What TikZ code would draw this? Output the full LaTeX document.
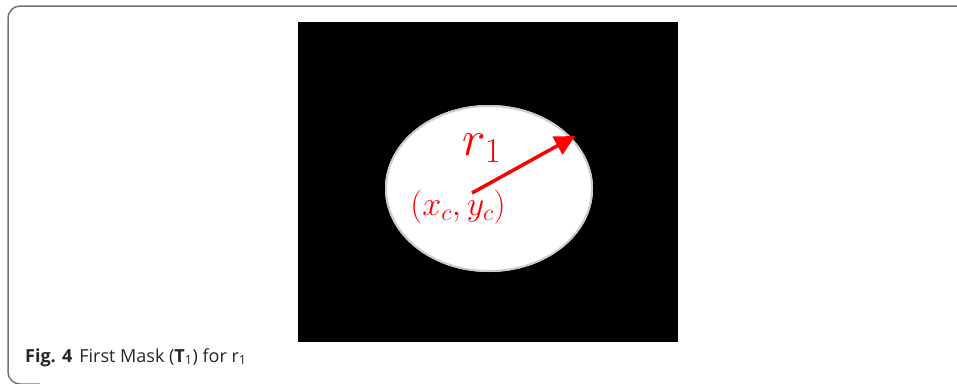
\RequirePackage{fix-cm}
\documentclass[tikz,border=0pt]{standalone}
\usepackage{fontspec}
\setmainfont{Open Sans}
\usetikzlibrary{arrows.meta}
\begin{document}
\begin{tikzpicture}[x=1pt,y=-1pt,
  framestyle/.style={draw=black!55,line width=1.5pt,rounded corners=12pt},
  redlabel/.style={text=red,inner sep=0pt},
  radiusarrow/.style={draw=red,line width=3.5pt,-{Triangle[length=20pt,width=20pt]}}]
\useasboundingbox (0,0) rectangle (957,383);
\draw[framestyle] (40,384) -- (8,384) -- (8,6) -- (990,6);
\fill[black] (298,22) rectangle (678,342);
\fill[white] (489,188.5) ellipse [x radius=104, y radius=83.5];
\draw[black!20,line width=2pt] (489,188.5) ellipse [x radius=103, y radius=82.5];
\coordinate (c) at (472,193);
\coordinate (tip) at (575,136);
\draw[radiusarrow] (c) -- (tip);
\node[redlabel,font=\fontsize{50}{50}\selectfont] (r) at (482,148) {$r_1$};
\node[redlabel,font=\fontsize{34}{34}\selectfont] (xy) at (458,207) {$(x_c,y_c)$};
\node[anchor=base west,inner sep=0pt,text=black!85,font=\fontsize{18}{18}\selectfont] (cap) at (25,362)
  {\textbf{Fig. 4}\hspace{7pt}First Mask (\textbf{T}\textsubscript{1}) for r\textsubscript{1}};
\end{tikzpicture}
\end{document}
